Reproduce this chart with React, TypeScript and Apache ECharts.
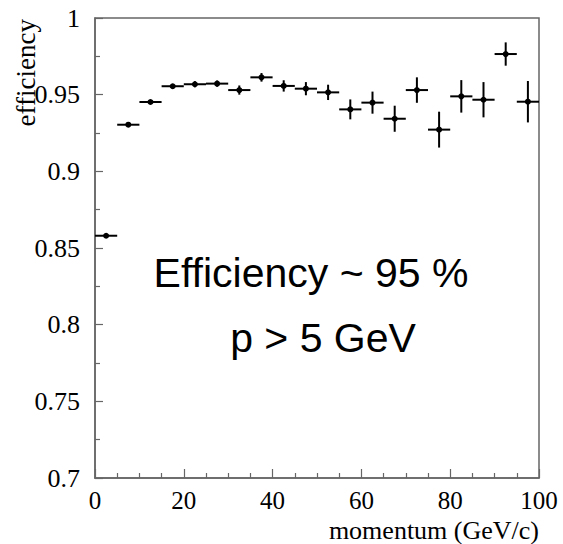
import React, { useEffect, useRef } from "react";
import * as echarts from "echarts";

const momentum = [2.5, 7.5, 12.5, 17.5, 22.5, 27.5, 32.5, 37.5, 42.5, 47.5, 52.5, 57.5, 62.5, 67.5, 72.5, 77.5, 82.5, 87.5, 92.5, 97.5];
const efficiency = [0.858, 0.9304, 0.9452, 0.9555, 0.9568, 0.9572, 0.953, 0.9613, 0.9557, 0.9539, 0.9515, 0.9404, 0.9448, 0.9343, 0.953, 0.9272, 0.9489, 0.9467, 0.9765, 0.9454];
const errors = [0.0005, 0.001, 0.001, 0.0015, 0.002, 0.002, 0.003, 0.0028, 0.0037, 0.0043, 0.005, 0.0065, 0.0072, 0.0085, 0.0083, 0.0117, 0.0106, 0.0115, 0.0076, 0.0135];
const binHalfWidth = 2.5;

const xTitle = "momentum (GeV/c)";
const yTitle = "efficiency";
const note1 = "Efficiency ~ 95 %";
const note2 = "p > 5 GeV";

const serif = "Liberation Serif";
const sans = "Liberation Sans";

export default function App() {
  const ref = useRef<HTMLDivElement>(null);
  useEffect(() => {
    if (!ref.current) return;
    const chart = echarts.init(ref.current, undefined, { renderer: "svg" });
    const data = momentum.map((m, i) => [m, efficiency[i], errors[i]]);
    chart.setOption({
      animation: false,
      textStyle: { fontFamily: serif },
      grid: {
        left: 95,
        right: 24,
        top: 18,
        bottom: 66,
        show: true,
        borderColor: "#666",
        borderWidth: 1.5,
        backgroundColor: "transparent",
      },
      xAxis: {
        type: "value",
        min: 0,
        max: 100,
        interval: 20,
        axisLine: { show: true, lineStyle: { color: "#666", width: 1.5 } },
        axisTick: { show: true, inside: true, length: 9, lineStyle: { color: "#666", width: 1.2 } },
        minorTick: { show: true, splitNumber: 4, length: 5, lineStyle: { color: "#666", width: 1.2 } },
        splitLine: { show: false },
        axisLabel: { color: "#000", fontFamily: serif, fontSize: 25, margin: 10 },
      },
      yAxis: {
        type: "value",
        min: 0.7,
        max: 1,
        interval: 0.05,
        axisLine: { show: true, lineStyle: { color: "#666", width: 1.5 } },
        axisTick: { show: true, inside: true, length: 8, lineStyle: { color: "#666", width: 1.2 } },
        minorTick: { show: true, splitNumber: 2, length: 5, lineStyle: { color: "#666", width: 1.2 } },
        splitLine: { show: false },
        axisLabel: {
          color: "#000",
          fontFamily: serif,
          fontSize: 26,
          margin: 15,
          formatter: (v: number) => String(parseFloat(v.toFixed(3))),
        },
      },
      series: [
        {
          type: "custom",
          data,
          renderItem: (params: any, api: any) => {
            const x = api.value(0);
            const y = api.value(1);
            const e = api.value(2);
            const c = api.coord([x, y]);
            const l = api.coord([x - binHalfWidth, y]);
            const r = api.coord([x + binHalfWidth, y]);
            const t = api.coord([x, y + e]);
            const b = api.coord([x, y - e]);
            const st = { stroke: "#000", lineWidth: 2 };
            return {
              type: "group",
              children: [
                { type: "line", shape: { x1: l[0], y1: l[1], x2: r[0], y2: r[1] }, style: st },
                { type: "line", shape: { x1: t[0], y1: t[1], x2: b[0], y2: b[1] }, style: st },
                { type: "circle", shape: { cx: c[0], cy: c[1], r: 3 }, style: { fill: "#000" } },
              ],
            };
          },
        },
      ],
      graphic: [
        {
          type: "text",
          right: 24,
          top: 517,
          style: {
            text: xTitle,
            fill: "#000",
            fontFamily: serif,
            fontSize: 26,
          },
        },
        {
          type: "text",
          x: 26,
          y: 19,
          rotation: Math.PI / 2,
          style: {
            text: yTitle,
            fill: "#000",
            fontFamily: serif,
            fontSize: 27,
            textAlign: "right",
            textVerticalAlign: "middle",
          },
        },
        {
          type: "text",
          x: 311,
          y: 273,
          style: {
            text: note1,
            fill: "#000",
            fontFamily: sans,
            fontSize: 41,
            textAlign: "center",
            textVerticalAlign: "middle",
          },
        },
        {
          type: "text",
          x: 323,
          y: 338,
          style: {
            text: note2,
            fill: "#000",
            fontFamily: sans,
            fontSize: 41,
            textAlign: "center",
            textVerticalAlign: "middle",
          },
        },
      ],
    });
    return () => chart.dispose();
  }, []);
  return <div ref={ref} style={{ width: 563, height: 544, position: "absolute", left: 0, top: 0 }} />;
}
